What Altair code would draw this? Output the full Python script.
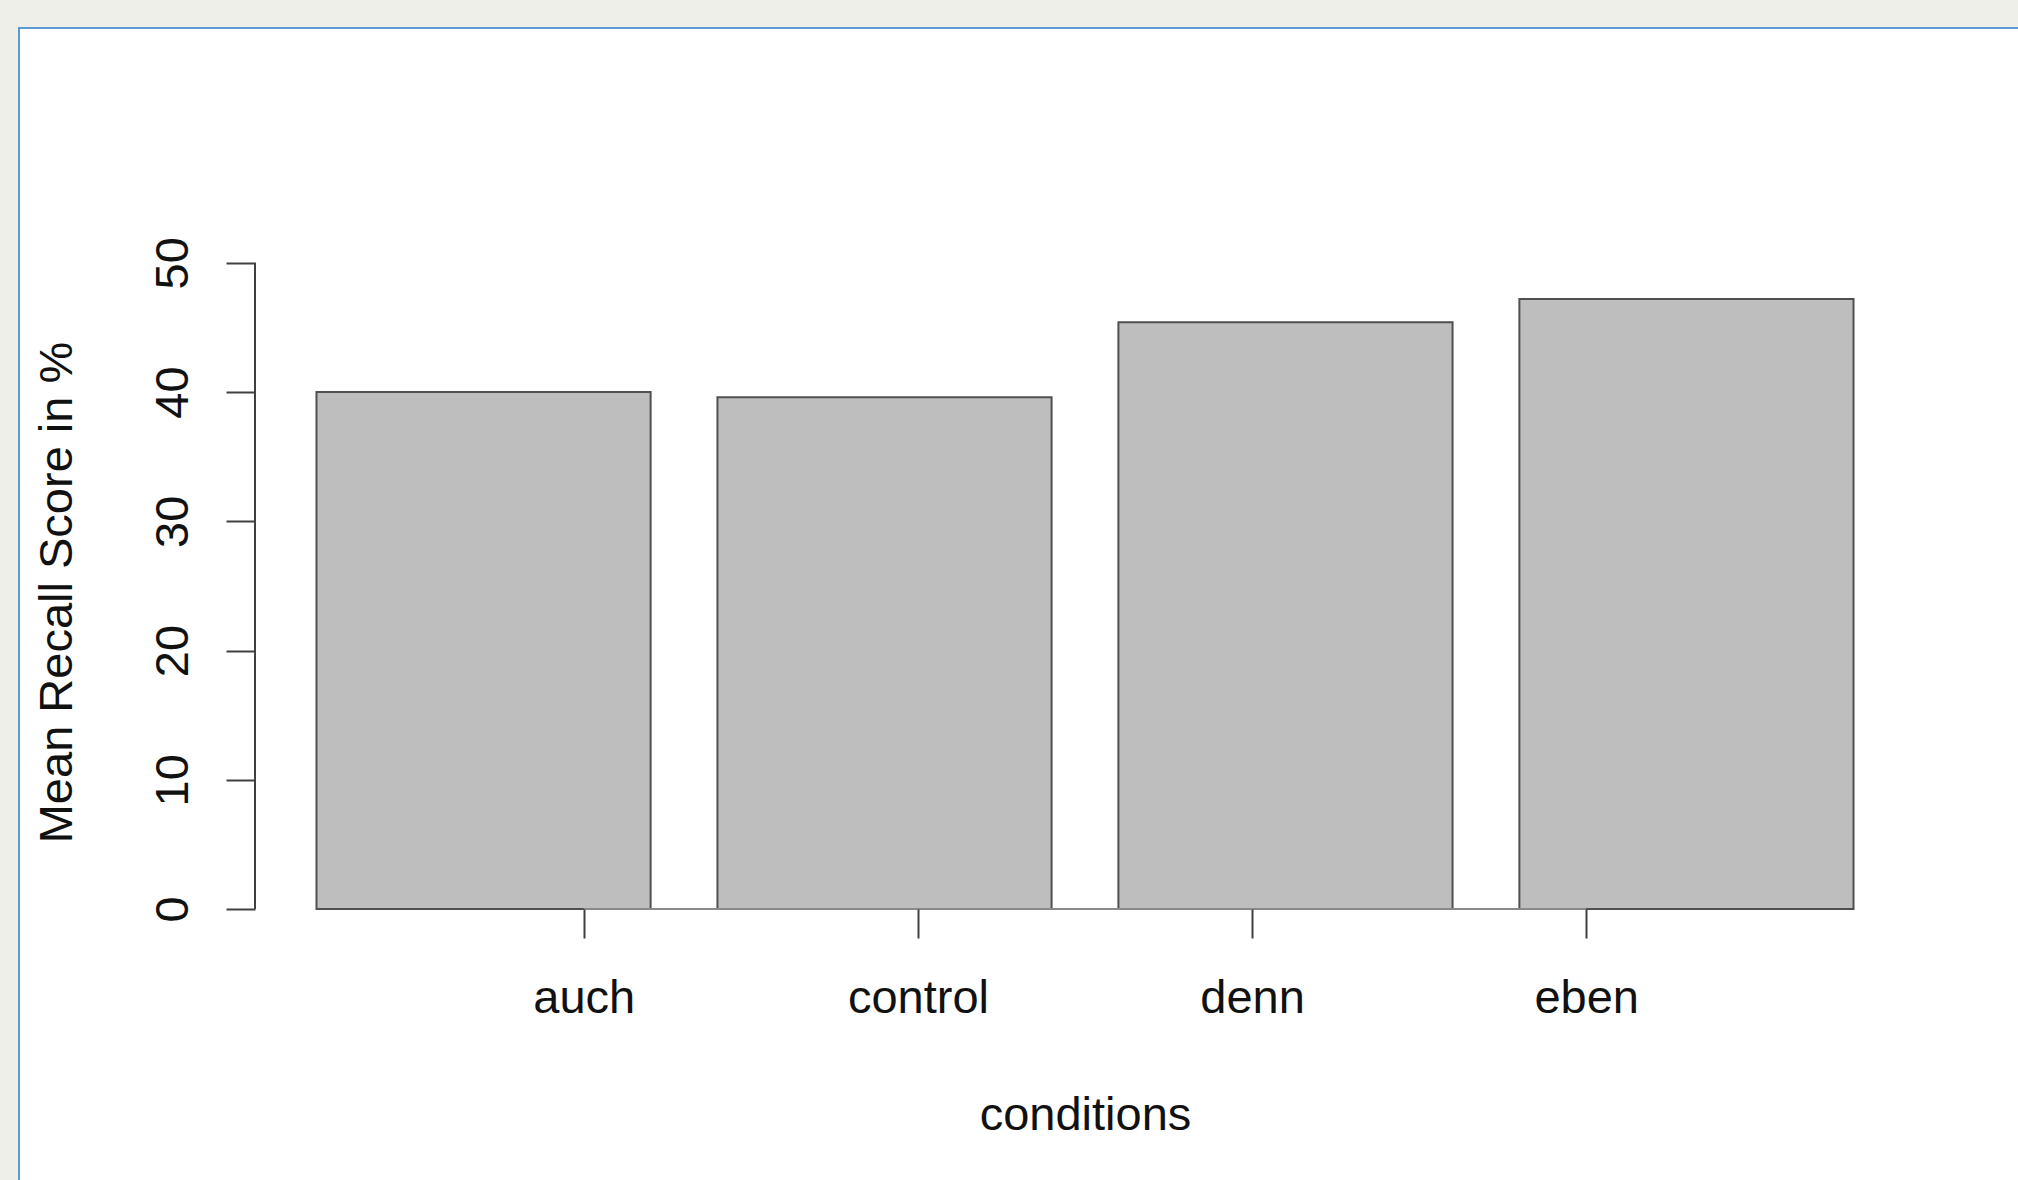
import altair as alt
import pandas as pd

# ---- data ----
conditions = ["auch", "control", "denn", "eben"]
scores = [40.0, 39.6, 45.4, 47.2]
y_ticks = [0, 10, 20, 30, 40, 50]
x_title = "conditions"
y_title = "Mean Recall Score in %"

# ---- R barplot geometry (width 1, space 0.2); axis ticks at 1..n ----
BAR_W = 1.0
SPACE = 0.2
starts = [SPACE + i * (BAR_W + SPACE) for i in range(len(conditions))]
ends = [s + BAR_W for s in starts]
tick_pos = [i + 1 for i in range(len(conditions))]
xr = ends[-1]
xpad = 0.04 * (xr - SPACE)
x_domain = [SPACE - xpad, xr + xpad]
y_domain = [0, y_ticks[-1] * 1.04]

bars_df = pd.DataFrame({"condition": conditions, "score": scores, "x0": starts, "x1": ends})
label_expr = "[" + ",".join("'%s'" % c for c in conditions) + "][datum.value - 1]"

FONT = "Liberation Sans"
FS = 47
W, H = 1660, 672
PAD_L, PAD_T = 255, 237
CANVAS_W, CANVAS_H = 2018, 1180

panel = alt.Chart(pd.DataFrame({"k": [0]})).mark_rect(
    fill="white", stroke="#5B9BD5", strokeWidth=2
).encode(
    x=alt.value(19 - PAD_L), x2=alt.value(1950),
    y=alt.value(28 - PAD_T), y2=alt.value(1100),
)

bars = alt.Chart(bars_df).mark_rect(
    fill="#BEBEBE", stroke="#505050", strokeWidth=2
).encode(
    x=alt.X("x0:Q",
            scale=alt.Scale(domain=x_domain, nice=False, zero=False),
            axis=alt.Axis(values=tick_pos, labelExpr=label_expr, title=x_title,
                          domain=False, grid=False, tickSize=29, tickColor="#404040",
                          tickWidth=2, labelFont=FONT, labelFontSize=FS,
                          labelColor="#111111", labelPadding=74,
                          labelBaseline="alphabetic", labelAngle=0,
                          labelAlign="center", labelFlush=False, labelOverlap=False,
                          titleFont=FONT, titleFontSize=FS, titleFontWeight="normal",
                          titleColor="#111111", titleX=W / 2, titleY=220,
                          titleBaseline="alphabetic", titleAlign="center", zindex=1)),
    x2="x1:Q",
    y=alt.Y("score:Q",
            scale=alt.Scale(domain=y_domain, nice=False, zero=True),
            axis=alt.Axis(values=y_ticks, title=y_title, domain=False, grid=False,
                          tickSize=29, tickColor="#404040", tickWidth=2,
                          labelFont=FONT, labelFontSize=FS, labelColor="#111111",
                          labelAngle=270, labelAlign="center",
                          labelBaseline="alphabetic", labelPadding=38.5,
                          labelFlush=False, labelOverlap=False,
                          titleFont=FONT, titleFontSize=FS, titleFontWeight="normal",
                          titleColor="#111111", titleAngle=270, titleX=-183.6,
                          titleY=355, titleBaseline="alphabetic", titleAlign="center",
                          zindex=1)),
    y2=alt.datum(0),
)

y_line = alt.Chart(pd.DataFrame({"lo": [y_ticks[0]], "hi": [y_ticks[-1]]})).mark_rule(
    color="#404040", strokeWidth=2
).encode(x=alt.value(0), y="lo:Q", y2="hi:Q")

x_line = alt.Chart(pd.DataFrame({"lo": [tick_pos[0]], "hi": [tick_pos[-1]]})).mark_rule(
    color="#8a8a8a", strokeWidth=2
).encode(x="lo:Q", x2="hi:Q", y=alt.datum(0))

chart = alt.layer(panel, bars, y_line, x_line).properties(
    width=W, height=H,
    autosize=alt.AutoSizeParams(type="none"),
    padding={"left": PAD_L, "top": PAD_T, "right": CANVAS_W - PAD_L - W,
             "bottom": CANVAS_H - PAD_T - H},
).configure(background="#EFEFE9").configure_view(strokeWidth=0)

chart.save("out.html", embed_options={"renderer": "svg", "actions": False,
                                      "defaultStyle": "body{margin:0;overflow:hidden}"})
